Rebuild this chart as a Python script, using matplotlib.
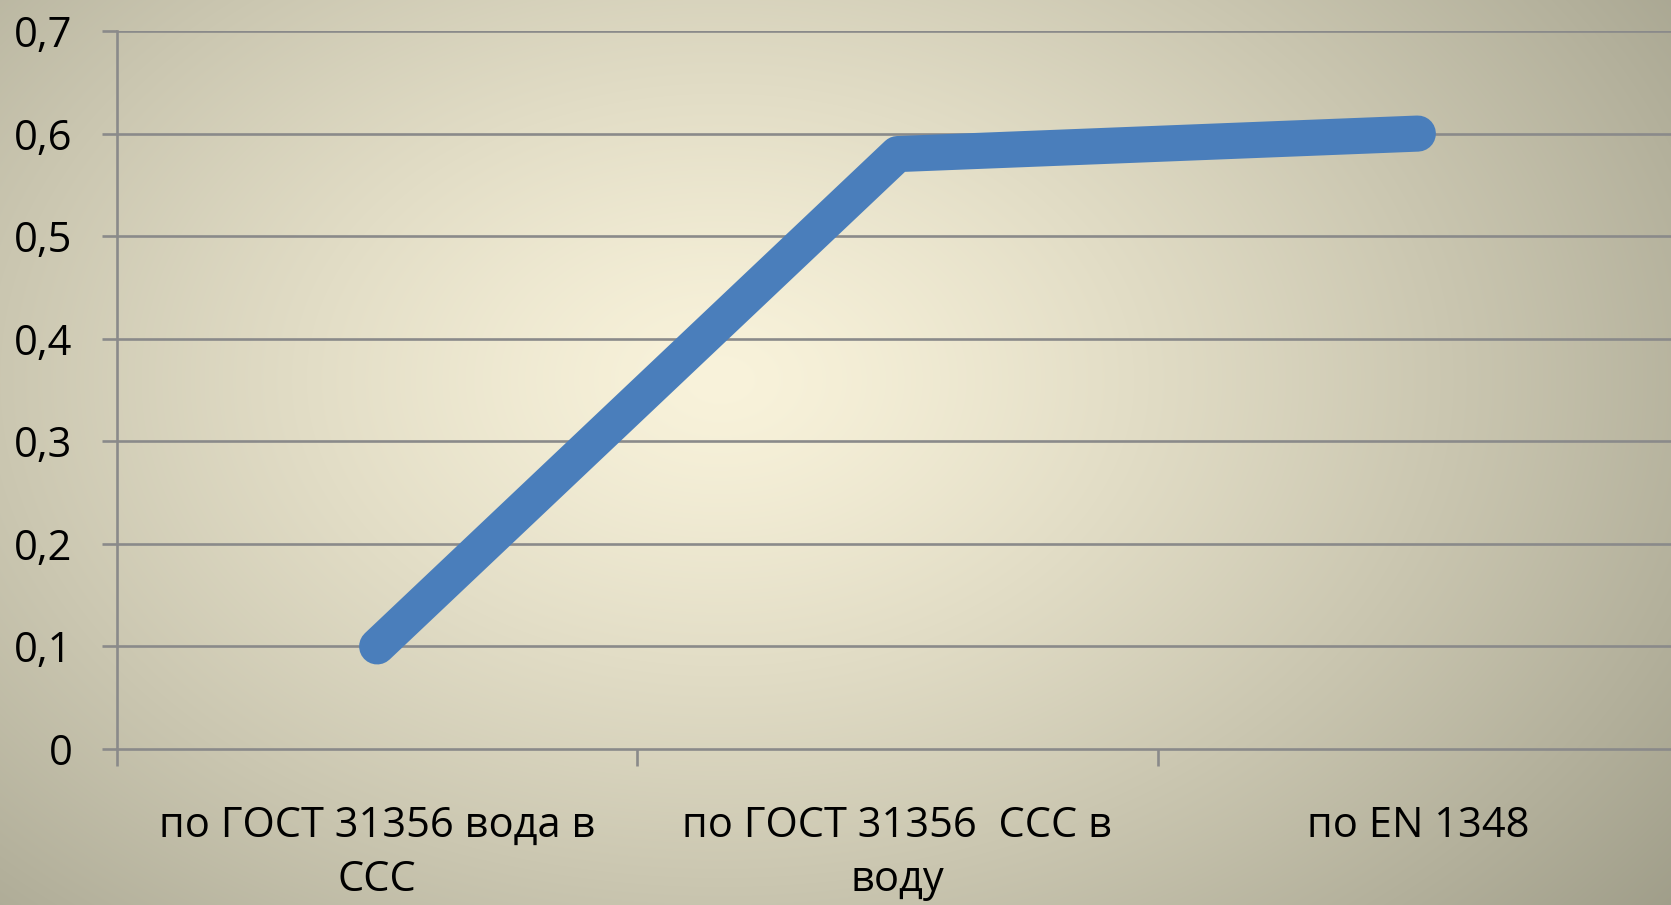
import numpy as np
import matplotlib
matplotlib.use("Agg")
import matplotlib.pyplot as plt
from matplotlib.colors import to_rgb

plt.rcParams['font.family'] = ['Open Sans', 'DejaVu Sans']

categories = ["по ГОСТ 31356 вода в\nССС", "по ГОСТ 31356  ССС в\nводу", "по EN 1348"]
values = [0.1, 0.58, 0.6]
yticks = [0, 0.1, 0.2, 0.3, 0.4, 0.5, 0.6, 0.7]
ytick_labels = ["0", "0,1", "0,2", "0,3", "0,4", "0,5", "0,6", "0,7"]

W, H = 1671, 905
fig = plt.figure(figsize=(W / 100, H / 100), dpi=100)

# soft radial background
bg = fig.add_axes([0, 0, 1, 1], zorder=0)
bg.axis("off")
yy, xx = np.mgrid[0:H, 0:W]
t = np.sqrt(((xx - 720) / 1100.0) ** 2 + ((yy - 380) / 760.0) ** 2)
t = np.clip(t, 0, 1.15) / 1.15
t = t ** 1.25
c0 = np.array(to_rgb("#f9f3db"))
c1 = np.array(to_rgb("#9c9a86"))
img = c0[None, None, :] * (1 - t[..., None]) + c1[None, None, :] * t[..., None]
bg.imshow(img, aspect="auto", extent=[0, 1, 0, 1])
bg.set_xlim(0, 1)
bg.set_ylim(0, 1)

ax = fig.add_axes([117 / W, 1 - 749 / H, (1678 - 117) / W, (749 - 31) / H], zorder=1)
ax.patch.set_alpha(0)

grid_col = "#8a8a8a"
x = np.arange(len(values)) + 0.5
ax.plot(x, values, color="#4a7ebb", lw=26, solid_capstyle="round",
        solid_joinstyle="round", zorder=3, clip_on=False)

ax.set_xlim(0, 3)
ax.set_ylim(0, 0.7)
ax.set_yticks(yticks)
ax.set_yticklabels(ytick_labels)
for yv in yticks[1:]:
    ax.axhline(yv, color=grid_col, lw=1.9, zorder=1)

ax.set_xticks([0, 1, 2, 3])
ax.set_xticklabels([])
ax.set_xticks(x, minor=True)
ax.set_xticklabels(categories, minor=True, linespacing=1.4)

for s in ["top", "right"]:
    ax.spines[s].set_visible(False)
ax.spines["left"].set_color(grid_col)
ax.spines["left"].set_linewidth(1.9)
ax.spines["bottom"].set_color(grid_col)
ax.spines["bottom"].set_linewidth(1.9)

ax.tick_params(axis="y", length=11, width=1.9, color=grid_col, pad=21,
               labelsize=30, labelcolor="black")
ax.tick_params(axis="x", which="major", length=12, width=1.9, color=grid_col)
ax.tick_params(axis="x", which="minor", length=0, pad=40, labelsize=30)

fig.savefig("out.png", dpi=100)
